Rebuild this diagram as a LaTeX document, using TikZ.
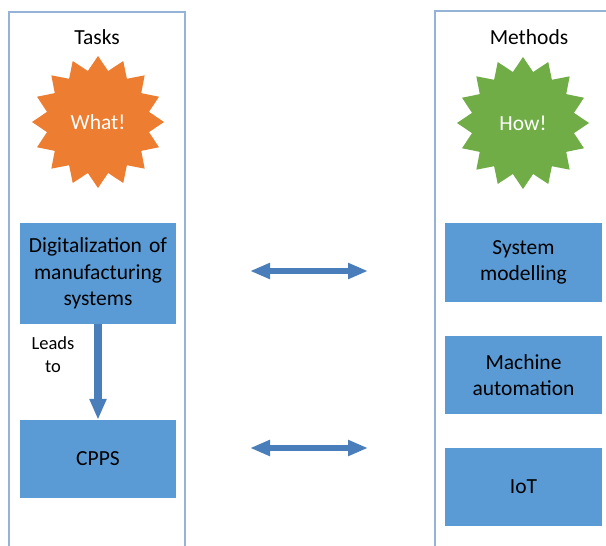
\documentclass[tikz,border=0pt]{standalone}
\usepackage{fontspec}
\setmainfont{Carlito}
\usetikzlibrary{shapes.geometric,arrows.meta}
\definecolor{boxblue}{HTML}{5B9BD5}
\definecolor{arrowblue}{HTML}{4A7EBB}
\definecolor{panelblue}{HTML}{95B3D7}
\definecolor{starorange}{HTML}{ED7D31}
\definecolor{stargreen}{HTML}{70AD47}

\begin{document}
\begin{tikzpicture}[x=1pt,y=-1pt,
  panel/.style={draw=panelblue,line width=2pt},
  title node/.style={font=\fontsize{21.5}{26.5}\selectfont},
  star node/.style={star,star points=16,star point ratio=1.27,minimum size=132pt,inner sep=0pt,text=white,font=\fontsize{21.5}{26.5}\selectfont},
  task box/.style={fill=boxblue,minimum width=156pt,text width=152pt,align=center,inner sep=0pt,font=\fontsize{21.5}{26.5}\selectfont},
  fat arrow/.style={draw=arrowblue,line width=8.5pt,-{Triangle[width=16pt,length=21pt]}},
  both arrow/.style={draw=arrowblue,line width=6pt,{Triangle[width=15pt,length=20pt]}-{Triangle[width=15pt,length=20pt]}}]

  \clip (0,0) rectangle (606,546);

  % panels
  \draw[panel] (9,560) -- (9,12) -- (185,12) -- (185,560);
  \draw[panel] (435,560) -- (435,11) -- (640,11);

  % left column
  \node[title node] (tasks) at (97,37) {Tasks};
  \node[star node,fill=starorange] (what) at (98,122) {What!};
  \node[task box,minimum height=101pt] (dig) at (98,273.5) {Digitalization of\\manufacturing\\systems};
  \node[task box,minimum height=78pt] (cpps) at (98,459) {CPPS};
  \node[align=center,font=\fontsize{18.5}{23}\selectfont] (leads) at (53,355) {Leads\\to};

  % right column
  \node[title node] (methods) at (529,37) {Methods};
  \node[star node,fill=stargreen] (how) at (523,123) {How!};
  \node[task box,minimum width=157pt,minimum height=79pt] (sys) at (523.5,262.5) {System\\modelling};
  \node[task box,minimum width=157pt,minimum height=78pt] (mach) at (523.5,375) {Machine\\automation};
  \node[task box,minimum width=157pt,minimum height=78pt] (iot) at (523.5,487) {IoT};

  % arrows
  \coordinate (a1) at (250,271);
  \coordinate (b1) at (368,271);
  \coordinate (a2) at (250,448);
  \coordinate (b2) at (368,448);
  \draw[fat arrow] (dig.south) -- (cpps.north);
  \draw[both arrow] (a1) -- (b1);
  \draw[both arrow] (a2) -- (b2);
\end{tikzpicture}
\end{document}
